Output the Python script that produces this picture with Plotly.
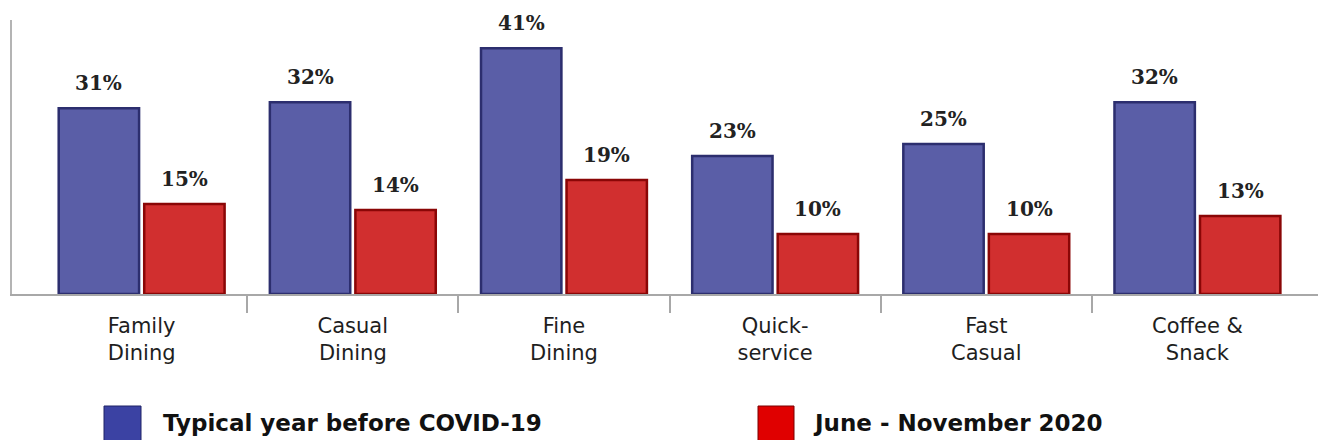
import plotly.graph_objects as go

categories = ["Family<br>Dining", "Casual<br>Dining", "Fine<br>Dining",
              "Quick-<br>service", "Fast<br>Casual", "Coffee &<br>Snack"]
series_names = ["Typical year before COVID-19", "June - November 2020"]
before_covid = [31, 32, 41, 23, 25, 32]
jun_nov_2020 = [15, 14, 19, 10, 10, 13]

BARGAP = 0.19
BARGROUPGAP = 0.06
xpos = list(range(len(categories)))

fig = go.Figure()
fig.add_trace(go.Bar(
    x=xpos, y=before_covid, name=series_names[0],
    marker=dict(color="#5a5ea7", line=dict(color="#2c2e6e", width=2.5)),
    showlegend=False, hoverinfo="y",
))
fig.add_trace(go.Bar(
    x=xpos, y=jun_nov_2020, name=series_names[1],
    marker=dict(color="#d12f2f", line=dict(color="#8a0606", width=2.5)),
    showlegend=False, hoverinfo="y",
))

# value labels placed at the centre of each grouped bar (offset derived from bargap)
off = (1 - BARGAP) / 4
for vals, sign in ((before_covid, -1), (jun_nov_2020, 1)):
    for i, v in enumerate(vals):
        fig.add_annotation(
            x=i + sign * off, y=v, xref="x", yref="y",
            text=f"{v}%", showarrow=False, yanchor="bottom", yshift=11,
            font=dict(family="DejaVu Serif", size=20, color="#222222", weight="bold"),
        )

# custom legend (large swatches)
legend_items = [
    (series_names[0], "#3b42a3", "#1e2266", 104, 141, 161),
    (series_names[1], "#e00000", "#7a0000", 758, 794, 811),
]
W, L, T, PLOT_H, BASE = 1318, 12, 20, 274, 294
for name, col, edge, x0, x1, tx in legend_items:
    fig.add_shape(type="rect", xref="paper", yref="paper",
                  x0=(x0 - L) / (W - L), x1=(x1 - L) / (W - L),
                  y0=(BASE - 441) / PLOT_H, y1=(BASE - 406) / PLOT_H,
                  fillcolor=col, line=dict(color=edge, width=1))
    fig.add_annotation(xref="paper", yref="paper",
                       x=(tx - L) / (W - L), y=(BASE - 423) / PLOT_H,
                       xanchor="left", yanchor="middle", showarrow=False,
                       text=name,
                       font=dict(family="DejaVu Sans", size=23, color="#111111", weight="bold"))

fig.update_layout(
    width=1318, height=440,
    margin=dict(l=12, r=0, t=20, b=146),
    paper_bgcolor="white", plot_bgcolor="white",
    barmode="group", bargap=BARGAP, bargroupgap=BARGROUPGAP,
    showlegend=False,
    xaxis=dict(
        range=[-0.614, 5.571],
        tickmode="array", tickvals=xpos, ticktext=categories,
        ticks="", showgrid=False, zeroline=False,
        showline=True, linecolor="#a8a8a8", linewidth=1.5,
        tickfont=dict(family="DejaVu Sans", size=21, color="#1e1e1e"),
        ticklabelstandoff=12,
        minor=dict(tickmode="array", tickvals=[i + 0.5 for i in xpos[:-1]],
                   ticks="outside", ticklen=17, tickcolor="#a8a8a8", tickwidth=1.5,
                   showgrid=False),
    ),
    yaxis=dict(
        range=[0, 45.7], showticklabels=False, ticks="", showgrid=False,
        zeroline=False, showline=True, linecolor="#b4b4b4", linewidth=1.5,
    ),
)

fig.write_html("out.html")
